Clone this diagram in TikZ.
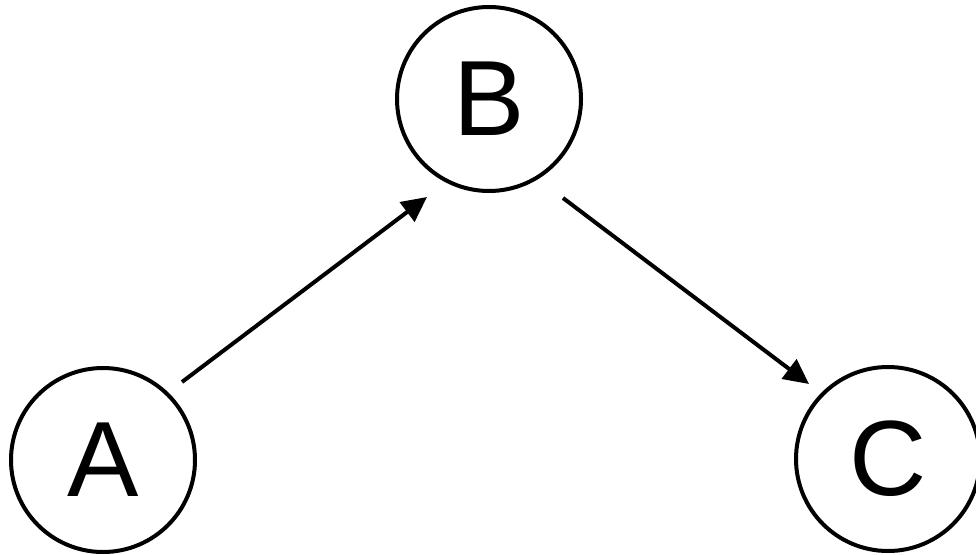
\documentclass[tikz,border=0pt]{standalone}
\usepackage{fontspec}
\setmainfont{Liberation Sans}
\usetikzlibrary{arrows.meta,calc}
\begin{document}
\begin{tikzpicture}[x=1pt,y=-1pt,
  vertex/.style={circle,draw=black,line width=4pt,minimum size=184pt,inner sep=0pt,
    font=\fontsize{107}{107}\selectfont},
  arr/.style={line width=4pt,-{Triangle[length=25pt,width=24pt]}}]
\useasboundingbox (0,0) rectangle (976,554);
\node[vertex] (A) at (103,460) {A};
\node[vertex] (B) at (489,99) {B};
\node[vertex] (C) at (888,459) {C};
\draw[arr] ($(A)+(79,-78)$) -- ($(B)+(-62,98)$);
\draw[arr] ($(B)+(74,99)$) -- ($(C)+(-79,-75)$);
\end{tikzpicture}
\end{document}
